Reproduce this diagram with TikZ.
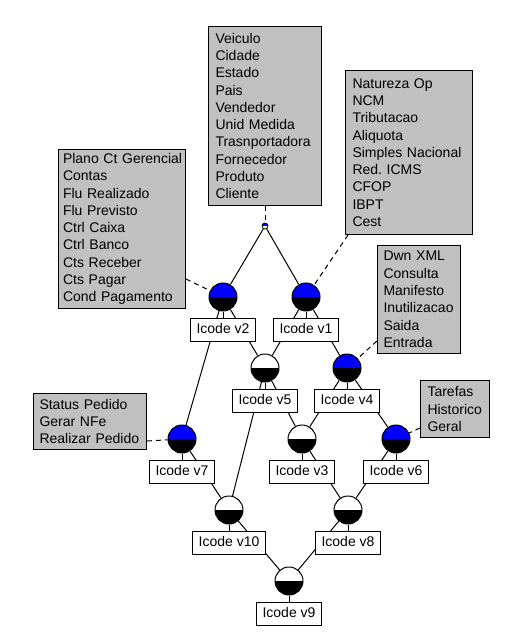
\documentclass[tikz,border=0pt]{standalone}
\usepackage{fontspec}
\setmainfont{Liberation Sans}
\usetikzlibrary{calc}
\pgfdeclarelayer{background}
\pgfsetlayers{background,main}
\definecolor{boxgray}{RGB}{192,192,192}
\definecolor{cblue}{RGB}{0,0,255}
\begin{document}
\begin{tikzpicture}[x=1pt,y=-1pt,line width=1pt,
  every node/.style={font=\fontsize{14}{17.3}\selectfont},
  graybox/.style={draw, fill=boxgray, anchor=north west, inner sep=0pt, align=left,
    execute at begin node={\hyphenpenalty=10000\exhyphenpenalty=10000\frenchspacing\hbadness=10000\hfuzz=20pt}},
  lbl/.style={draw, fill=white, inner xsep=6pt, inner ysep=5pt, minimum height=23pt, text height=10pt, text depth=3pt},
  conc/.style={circle, draw, fill=white, minimum size=28pt, inner sep=0pt},
  attrobj/.style={conc, path picture={
      \fill[cblue] (path picture bounding box.north west) rectangle (path picture bounding box.east);
      \fill[black] (path picture bounding box.west) rectangle (path picture bounding box.south east);}},
  objonly/.style={conc, path picture={
      \fill[black] (path picture bounding box.west) rectangle (path picture bounding box.south east);}},
  topc/.style={circle, draw, fill=white, minimum size=6pt, inner sep=0pt, line width=0.8pt, path picture={
      \fill[cblue] (path picture bounding box.north west) rectangle (path picture bounding box.east);}},
  latedge/.style={draw, line width=1pt},
  attrlink/.style={draw, line width=1pt, dash pattern=on 5pt off 4pt}
]
\useasboundingbox (0,0) rectangle (523,636);

% attribute boxes
\node[graybox, minimum width=113pt, minimum height=179pt, text width=99pt] (A) at (208,26)
  {Veiculo\\Cidade\\Estado\\Pais\\Vendedor\\Unid Medida\\Trasnportadora\\Fornecedor\\Produto\\Cliente};
\node[graybox, minimum width=127pt, minimum height=164pt, text width=113pt] (B) at (345,70)
  {Natureza Op\\NCM\\Tributacao\\Aliquota\\Simples Nacional\\Red. ICMS\\CFOP\\IBPT\\Cest};
\node[graybox, minimum width=127pt, minimum height=159pt, text width=118pt] (C) at (58,149)
  {\mbox{Plano Ct Gerencial}\\Contas\\Flu Realizado\\Flu Previsto\\Ctrl Caixa\\Ctrl Banco\\Cts Receber\\Cts Pagar\\\mbox{Cond Pagamento}};
\node[graybox, minimum width=83pt, minimum height=108pt, text width=71pt] (D) at (377,245)
  {Dwn XML\\Consulta\\Manifesto\\\mbox{Inutilizacao}\\Saida\\Entrada};
\node[graybox, minimum width=69pt, minimum height=57pt, text width=55pt] (E) at (420,380)
  {Tarefas\\\mbox{Historico}\\Geral};
\node[graybox, minimum width=113pt, minimum height=56pt, text width=101pt] (F) at (33,393)
  {Status Pedido\\Gerar NFe\\\mbox{Realizar Pedido}};

% concepts
\node[topc] (top) at (265,226) {};
\node[attrobj] (v2) at (223,297) {};
\node[attrobj] (v1) at (306,297) {};
\node[objonly] (v5) at (265,368) {};
\node[attrobj] (v4) at (347,368) {};
\node[attrobj] (v7) at (182,439) {};
\node[objonly] (v3) at (302,439) {};
\node[attrobj] (v6) at (396,439) {};
\node[objonly] (v10) at (229,510) {};
\node[objonly] (v8) at (348,510) {};
\node[objonly] (v9) at (289,581) {};

% object labels
\node[lbl] (l2) at (223,329.5) {Icode v2};
\node[lbl] (l1) at (306,329.5) {Icode v1};
\node[lbl] (l5) at (265,400.5) {Icode v5};
\node[lbl] (l4) at (347,400.5) {Icode v4};
\node[lbl] (l7) at (182,471.5) {Icode v7};
\node[lbl] (l3) at (302,471.5) {Icode v3};
\node[lbl] (l6) at (396,471.5) {Icode v6};
\node[lbl] (l10) at (229,542.5) {Icode v10};
\node[lbl] (l8) at (348,542.5) {Icode v8};
\node[lbl] (l9) at (289,613.5) {Icode v9};

\begin{pgfonlayer}{background}
  \fill[white] (0,0) rectangle (523,636);
  % lattice edges
  \path[latedge] (top) -- (v2);
  \path[latedge] (top) -- (v1);
  \path[latedge] (v2) -- (v5);
  \path[latedge] (v2) -- (v7);
  \path[latedge] (v1) -- (v5);
  \path[latedge] (v1) -- (v4);
  \path[latedge] (v5) -- (v3);
  \path[latedge] (v5) -- (v10);
  \path[latedge] (v4) -- (v3);
  \path[latedge] (v4) -- (v6);
  \path[latedge] (v7) -- (v10);
  \path[latedge] (v3) -- (v8);
  \path[latedge] (v6) -- (v8);
  \path[latedge] (v10) -- (v9);
  \path[latedge] (v8) -- (v9);
  % label ticks
  \foreach \c/\l in {v2/l2,v1/l1,v5/l5,v4/l4,v7/l7,v3/l3,v6/l6,v10/l10,v8/l8,v9/l9}
    \path[latedge] (\c) -- (\l);
  % attribute connectors
  \path[attrlink] (A.south) -- (top);
  \path[attrlink] ($(B.south west)+(3,0)$) -- (v1);
  \path[attrlink] ($(C.south east)+(0,-30)$) -- (v2);
  \path[attrlink] ($(D.south west)+(0,-13)$) -- (v4);
  \path[attrlink] ($(E.south west)+(0,-10)$) -- (v6);
  \path[attrlink] ($(F.south east)+(0,-9)$) -- (v7);
\end{pgfonlayer}
\end{tikzpicture}
\end{document}
